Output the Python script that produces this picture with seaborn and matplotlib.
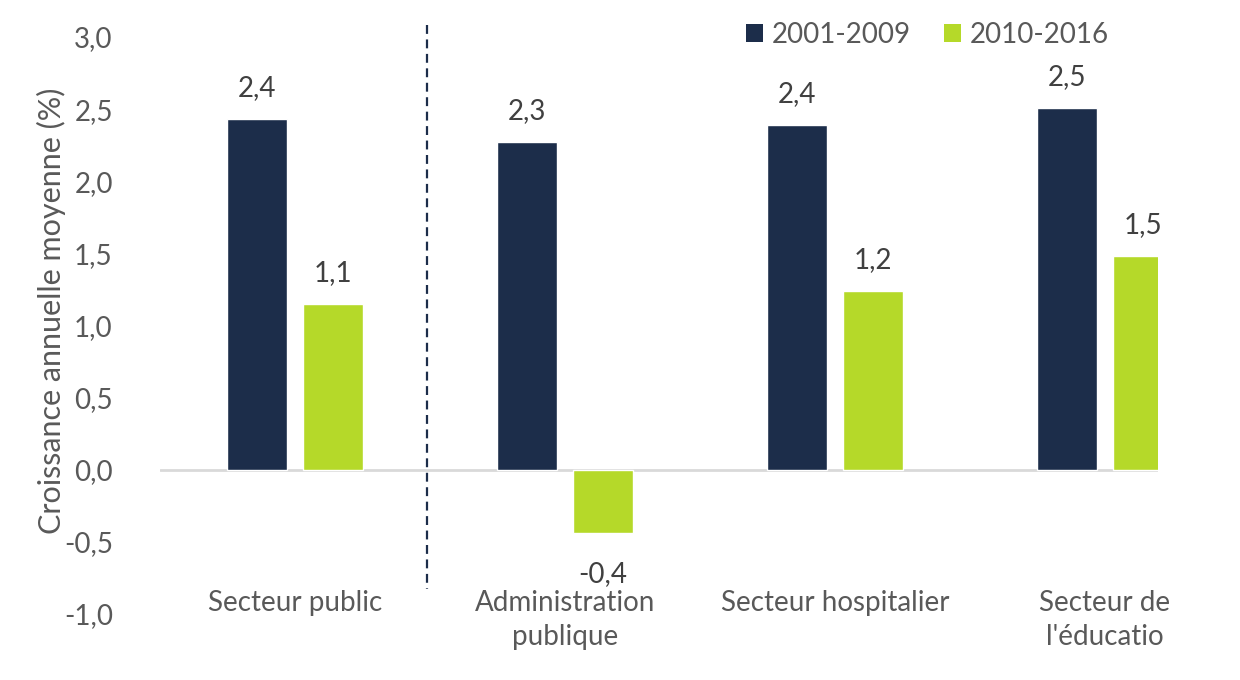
import pandas as pd
import seaborn as sns
import matplotlib.pyplot as plt
from matplotlib.patches import Patch

# Données
secteurs = ["Secteur public", "Administration\npublique", "Secteur hospitalier", "Secteur de\nl'éducatio"]
periodes = ["2001-2009", "2010-2016"]
croissance_2001_2009 = [2.43, 2.27, 2.39, 2.51]
croissance_2010_2016 = [1.15, -0.44, 1.24, 1.48]

couleurs = ["#1c2d4a", "#b5d929"]
gris_texte = "#595959"
gris_valeur = "#404040"
fs = 20

df = pd.DataFrame({
    "secteur": secteurs * 2,
    "periode": [periodes[0]] * 4 + [periodes[1]] * 4,
    "valeur": croissance_2001_2009 + croissance_2010_2016,
})

sns.set_style("white")
plt.rcParams["font.family"] = ["Lato", "DejaVu Sans"]

fig = plt.figure(figsize=(12.4, 6.8), dpi=100)
ax = fig.add_axes([160 / 1240, 1 - 614 / 680, (1158 - 160) / 1240, (614 - 37) / 680])

sns.barplot(data=df, x="secteur", y="valeur", hue="periode", palette=couleurs,
            saturation=1, width=0.563, gap=0.21, legend=False, ax=ax)

ax.set_xlim(-0.5, 3.197)
ax.set_ylim(-1.0, 3.0)
ax.set_yticks([-1.0, -0.5, 0.0, 0.5, 1.0, 1.5, 2.0, 2.5, 3.0])
ax.set_yticklabels([f"{t:.1f}".replace(".", ",") for t in ax.get_yticks()])
ax.tick_params(axis="y", length=0, pad=34, labelsize=fs, labelcolor=gris_texte)
ax.tick_params(axis="x", length=0, pad=-17, labelsize=fs, labelcolor=gris_texte)
for lab in ax.get_xticklabels():
    lab.set_linespacing(1.35)
ax.set_xlabel("")
ax.set_ylabel("Croissance annuelle moyenne (%)", fontsize=22, color=gris_texte)
ax.yaxis.set_label_coords(-0.094, 0.525)
for s in ax.spines.values():
    s.set_visible(False)

# ligne du zéro
ax.axhline(0, color="#d9d9d9", lw=2, zorder=0)

# séparateur pointillé
ax.plot([0.49, 0.49], [3.08, -0.83], color=couleurs[0], lw=1.6,
        ls=(0, (4, 2.5)), clip_on=False)

# étiquettes de valeurs
for cont in ax.containers:
    for bar in cont:
        v = bar.get_height() if bar.get_y() >= 0 else bar.get_y()
        xc = bar.get_x() + bar.get_width() / 2
        if v >= 0:
            ax.annotate(f"{v:.1f}".replace(".", ","), (xc, v), xytext=(0, 13),
                        textcoords="offset points", ha="center", va="bottom",
                        fontsize=fs, color=gris_valeur)
        else:
            ax.annotate(f"{v:.1f}".replace(".", ","), (xc, v), xytext=(0, -20),
                        textcoords="offset points", ha="center", va="top",
                        fontsize=fs, color=gris_valeur)

handles = [Patch(facecolor=c, edgecolor="none", label=p) for c, p in zip(couleurs, periodes)]
fig.legend(handles=handles, loc="center left", bbox_to_anchor=(746 / 1240, 1 - 35 / 680),
           ncol=2, frameon=False, fontsize=fs, labelcolor=gris_texte,
           handlelength=0.62, handleheight=0.62, handletextpad=0.3,
           columnspacing=1.2, borderpad=0, borderaxespad=0)

fig.savefig("out.png", dpi=100)
